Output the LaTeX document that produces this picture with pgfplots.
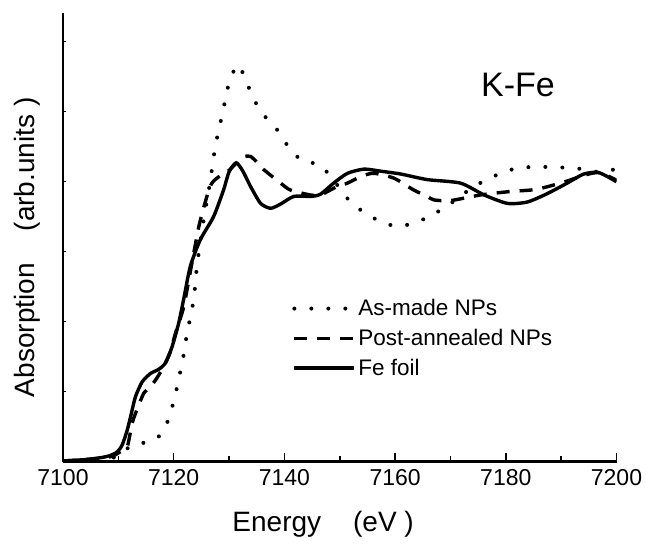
\documentclass[border=0pt]{standalone}
\usepackage{fontspec}
\setmainfont{Liberation Sans}
\usepackage{pgfplots}
\pgfplotsset{compat=1.18}

\begin{document}
\begin{tikzpicture}
\path[use as bounding box] (-63pt,-84.3pt) rectangle (583pt,461.7pt);
\begin{axis}[
  scale only axis,width=553.5pt,height=448.7pt,
  xmin=7100,xmax=7200,ymin=0,ymax=6.41,
  axis x line*=bottom,axis y line*=left,
  axis line style={line width=2.4pt,-},
  xtick={7100,7120,...,7200},minor x tick num=1,
  ytick={1,...,6},yticklabels={},
  tick align=inside,
  major tick length=9pt,minor tick length=6pt,
  every tick/.style={black,line width=1.5pt},
  ytick style={/pgfplots/major tick length=3pt},
  xticklabel style={font=\fontsize{23}{27}\selectfont,yshift=-4pt},
  /pgf/number format/assume math mode=true,
  /pgf/number format/set thousands separator={},
  xlabel={Energy\hspace{32pt}(eV )},
  ylabel={Absorption\hspace{32pt}(arb.units )},
  label style={font=\fontsize{28}{34}\selectfont},
  xlabel style={at={(axis description cs:0.470,-0.156)},anchor=base},
  ylabel style={at={(axis description cs:-0.052,0.478)},anchor=base,rotate=0},
  legend style={draw=none,fill=none,at={(axis description cs:0.414,0.366)},
    anchor=north west,font=\fontsize{22.5}{27}\selectfont,inner sep=0pt,
    row sep=8pt,
    /tikz/every even column/.append style={column sep=10pt}},
  legend cell align=left,
  legend image code/.code={\draw[#1] (0pt,0pt) -- (60pt,0pt);},
]
\addplot[black,line width=4pt,line cap=round,dash pattern=on 0pt off 17pt,smooth,tension=0.4] coordinates {
  (7100,0.01) (7105,0.02) (7108,0.04) (7110,0.08) (7111.2,0.15) (7111.9,0.21)
  (7113,0.25) (7114.6,0.27) (7116,0.3) (7117.6,0.38) (7118.5,0.5) (7119.1,0.62)
  (7120,0.86) (7120.7,1.1) (7121.3,1.33) (7121.9,1.57) (7122.4,1.83) (7123.6,2.31)
  (7124.2,2.79) (7125.4,3.45) (7126.6,4.0) (7127,4.24) (7127.5,4.49) (7128.1,4.73)
  (7128.8,4.97) (7129.4,5.2) (7130.1,5.44) (7131.6,5.67) (7133.1,5.44) (7134.3,5.2)
  (7136.3,4.95) (7138.7,4.74) (7140.8,4.49) (7143.2,4.30) (7146.4,4.24) (7148.9,4.02)
  (7151.4,3.76) (7154.2,3.57) (7157.4,3.43) (7160.4,3.36) (7163.4,3.41) (7166.4,3.51)
  (7169.7,3.67) (7172.4,3.83) (7175.8,4.0) (7178.8,4.11) (7181.8,4.19) (7184.8,4.21)
  (7187.8,4.21) (7190.8,4.2) (7193.9,4.18) (7196.6,4.14) (7200,4.18)};
\addlegendentry{As-made NPs}
\addplot[black,line width=3.4pt,dash pattern=on 13pt off 10pt,line join=round,smooth,tension=0.4] coordinates {
  (7100,0.01) (7104,0.03) (7107,0.05) (7109,0.08) (7110.5,0.15) (7111.6,0.21)
  (7112.5,0.55) (7113.1,0.69) (7114.6,0.98) (7115.8,1.07) (7117,1.2) (7118.2,1.36)
  (7119.4,1.57) (7120.3,1.83) (7121.8,2.21) (7123.2,2.8) (7124.6,3.38) (7126,3.79)
  (7126.9,3.98) (7128.3,4.08) (7129.7,4.14) (7131.5,4.28) (7132.7,4.36) (7133.9,4.36)
  (7135,4.28) (7136,4.19) (7139.3,3.98) (7141.1,3.88) (7144.7,3.81) (7146.5,3.81)
  (7149.5,3.93) (7151.4,3.98) (7154,4.08) (7156.2,4.12) (7159.8,4.05) (7163.4,3.88)
  (7165.8,3.79) (7167,3.74) (7170,3.73) (7175.4,3.81) (7180.8,3.86) (7185.5,3.89)
  (7190.3,3.99) (7194.5,4.10) (7197,4.13) (7200,4.02)};
\addlegendentry{Post-annealed NPs}
\addplot[black,line width=3.4pt,line join=round,smooth,tension=0.4] coordinates {
  (7100,0.01) (7104,0.03) (7107,0.06) (7108.6,0.09) (7109.8,0.14) (7110.7,0.24)
  (7111.6,0.45) (7112.2,0.64) (7113.1,0.93) (7114.3,1.14) (7115.8,1.26) (7117.3,1.32)
  (7118.5,1.41) (7119.7,1.64) (7120.9,1.98) (7121.9,2.36) (7123,2.79) (7124.8,3.17)
  (7127.2,3.5) (7129,3.88) (7130,4.14) (7131.3,4.27) (7132.5,4.15) (7133.9,3.93)
  (7135.7,3.69) (7137.5,3.62) (7139.3,3.68) (7141.7,3.79) (7144.7,3.79) (7146.5,3.82)
  (7148.9,3.98) (7151.4,4.12) (7154.4,4.18) (7157.4,4.15) (7161,4.11) (7165.8,4.03)
  (7171.8,3.98) (7176.1,3.81) (7180.3,3.69) (7183.9,3.71) (7187.5,3.83) (7191.1,3.98)
  (7194.1,4.11) (7196.8,4.13) (7200,4.0)};
\addlegendentry{Fe foil}
\node[font=\fontsize{34}{40}\selectfont,anchor=base west,inner sep=0pt]
  at (axis cs:7175.5,5.21) {K-Fe};
\end{axis}
\end{tikzpicture}
\end{document}
